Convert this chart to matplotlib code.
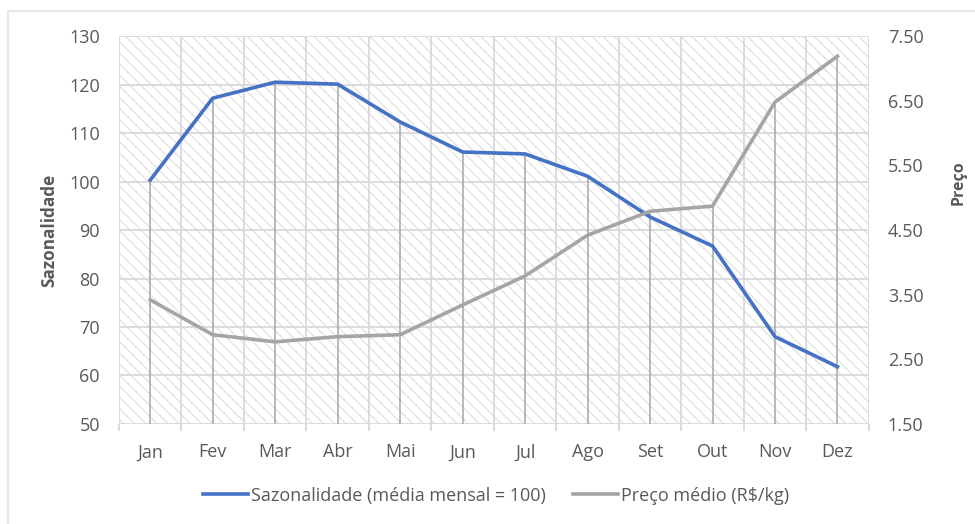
import matplotlib
matplotlib.use("Agg")
import matplotlib.pyplot as plt
from matplotlib.patches import Rectangle
from matplotlib.lines import Line2D
import numpy as np

months = ["Jan", "Fev", "Mar", "Abr", "Mai", "Jun", "Jul", "Ago", "Set", "Out", "Nov", "Dez"]
sazonalidade = [100.3, 117.2, 120.5, 120.1, 112.3, 106.1, 105.7, 101.1, 92.7, 86.7, 68.0, 61.8]
preco = [3.42, 2.88, 2.77, 2.85, 2.88, 3.34, 3.79, 4.42, 4.79, 4.87, 6.48, 7.19]
left_ticks = [50, 60, 70, 80, 90, 100, 110, 120, 130]
right_ticks = [1.5, 2.5, 3.5, 4.5, 5.5, 6.5, 7.5]

plt.rcParams['font.family'] = ['Open Sans', 'DejaVu Sans']
plt.rcParams['hatch.linewidth'] = 0.6
plt.rcParams['hatch.color'] = '#d4d4d4'

TXT = '#595959'
BLUE = '#4472C4'
GREY = '#A5A5A5'
GRID = '#d9d9d9'

fig = plt.figure(figsize=(9.75, 5.24), dpi=100)
fig.patch.set_facecolor('white')

# outer chart border (top and left visible)
fig.add_artist(Line2D([8 / 975, 1.0], [1 - 11 / 524, 1 - 11 / 524], transform=fig.transFigure,
                      color='#e3e3e3', lw=1.2))
fig.add_artist(Line2D([8 / 975, 8 / 975], [0.0, 1 - 11 / 524], transform=fig.transFigure,
                      color='#e3e3e3', lw=1.2))

ax = fig.add_axes([0.122, 0.191, 0.769, 0.740])
ax2 = ax.twinx()

x = np.arange(len(months))
ax.set_xlim(-0.5, len(months) - 0.5)
ax.set_ylim(50, 130)
ax2.set_ylim(1.5, 7.5)

# hatched background
ax.patch.set_facecolor('white')
bg = Rectangle((0, 0), 1, 1, transform=ax.transAxes, facecolor='white',
               edgecolor='#d4d4d4', hatch='\\\\\\', linewidth=0, zorder=0)
ax.add_patch(bg)

# gridlines
for v in left_ticks:
    ax.axhline(v, color=GRID, lw=1.3, zorder=1)
bounds = np.arange(-0.5, len(months), 1.0)
for b in bounds:
    ax.axvline(b, color=GRID, lw=1.3, zorder=1)

# drop lines (to the higher of the two points in pixel space)
for i in range(len(months)):
    fy1 = (sazonalidade[i] - 50) / 80
    fy2 = (preco[i] - 1.5) / 6
    top = max(fy1, fy2)
    ax.plot([x[i], x[i]], [50, 50 + top * 80], color='#a6a6a6', lw=1.1, zorder=2)

l1, = ax.plot(x, sazonalidade, color=BLUE, lw=2.6, zorder=4, solid_joinstyle='round')
l2, = ax2.plot(x, preco, color=GREY, lw=2.6, zorder=3, solid_joinstyle='round')

ax.set_yticks(left_ticks)
ax.set_yticklabels([str(v) for v in left_ticks])
ax2.set_yticks(right_ticks)
ax2.set_yticklabels([f"{v:.2f}" for v in right_ticks])
ax.set_xticks(x)
ax.set_xticklabels(months)
ax.set_xticks(bounds, minor=True)

for a in (ax, ax2):
    for s in a.spines.values():
        s.set_visible(False)
    a.tick_params(length=0, colors=TXT, labelsize=13)
ax.tick_params(axis='x', which='minor', length=5, width=1.3, color=GRID)
ax.tick_params(axis='y', pad=13.7)
ax2.tick_params(axis='y', pad=13.7)
ax.tick_params(axis='x', which='major', pad=14)

ax.set_ylabel('Sazonalidade', fontsize=12.3, fontweight='bold', color=TXT)
ax.yaxis.set_label_coords(-0.081, 0.5)
ax2.set_ylabel('Preço', fontsize=11.5, fontweight='bold', color=TXT)
ax2.yaxis.set_label_coords(1.109, 0.621)

h1 = Line2D([], [], color=BLUE, lw=2.6)
h2 = Line2D([], [], color=GREY, lw=2.6)
fig.legend([h1, h2], ['Sazonalidade (média mensal = 100)', 'Preço médio (R$/kg)'],
           loc='center', bbox_to_anchor=(0.509, 0.054), ncol=2, frameon=False,
           fontsize=13, labelcolor=TXT, handlelength=2.5, handletextpad=0.17,
           columnspacing=1.5)

fig.savefig('out.png', dpi=100, facecolor='white')
